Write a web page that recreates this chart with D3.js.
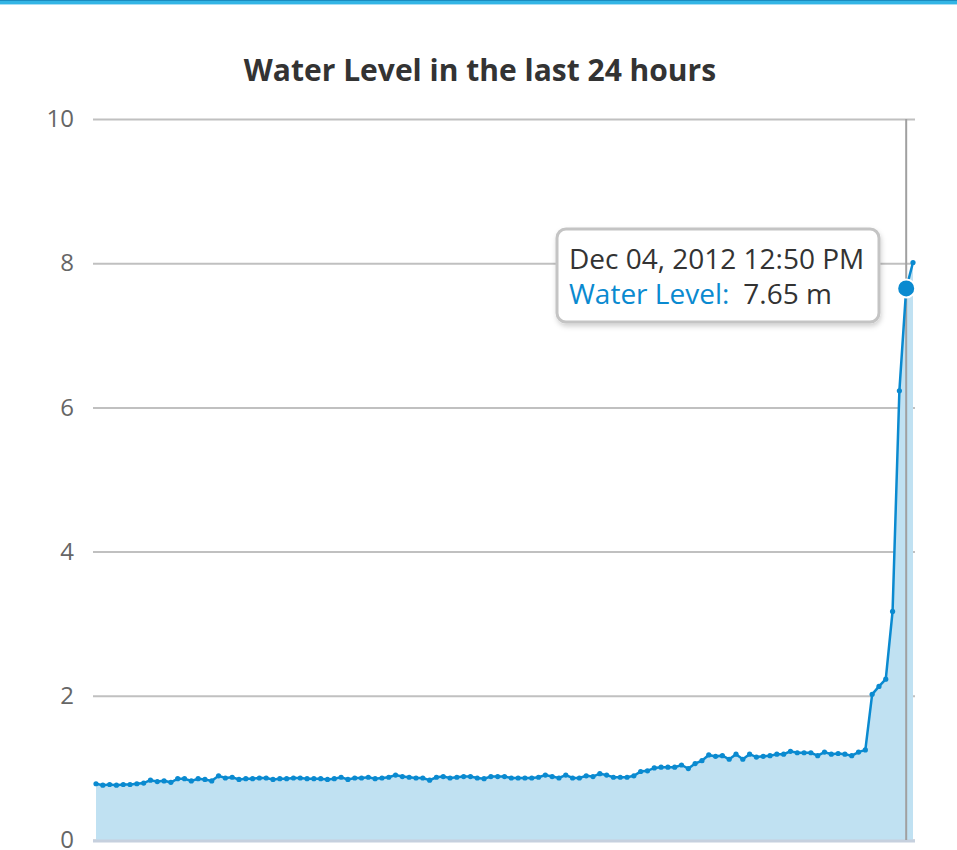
<!DOCTYPE html>
<html>
<head>
<meta charset="utf-8">
<script src="https://cdn.jsdelivr.net/npm/d3@7"></script>
<style>
  body { margin: 0; background: #fff; }
  svg { display: block; font-family: "Open Sans", Roboto, sans-serif; }
</style>
</head>
<body>
<svg id="chart" width="957" height="850"></svg>
<script>
// water level readings (m), one every 12 minutes over 24 hours
var levels = [
  0.78,0.76,0.77,0.76,0.77,0.77,0.78,0.79,0.83,0.81,0.82,0.80,0.85,0.85,0.82,0.85,
  0.84,0.82,0.89,0.86,0.87,0.84,0.85,0.85,0.86,0.86,0.84,0.85,0.85,0.86,0.86,
  0.85,0.85,0.85,0.84,0.85,0.87,0.84,0.86,0.86,0.87,0.85,0.86,0.87,0.90,0.88,
  0.87,0.86,0.86,0.83,0.87,0.88,0.86,0.87,0.88,0.88,0.86,0.85,0.88,0.88,0.88,
  0.86,0.86,0.86,0.86,0.87,0.90,0.88,0.86,0.90,0.86,0.86,0.89,0.88,0.92,0.90,0.87,
  0.87,0.87,0.89,0.95,0.96,1.00,1.01,1.01,1.01,1.04,0.99,1.06,1.10,1.18,1.16,1.17,
  1.12,1.19,1.12,1.19,1.15,1.16,1.17,1.19,1.19,1.23,1.21,1.21,1.21,1.17,1.22,
  1.19,1.20,1.19,1.17,1.22,1.25,
  2.02,2.13,2.23,3.17,6.23,7.65,8.01
];
var startTime = new Date(2012, 11, 3, 13, 2);
var stepMinutes = 12;
var yTicks = [0, 2, 4, 6, 8, 10];
var title = "Water Level in the last 24 hours";
var seriesName = "Water Level";
var unit = "m";
var hoverIndex = 119;

var data = levels.map(function (v, i) {
  return { t: new Date(startTime.getTime() + i * stepMinutes * 60000), v: v };
});

var svg = d3.select("#chart"),
    width = +svg.attr("width"),
    height = +svg.attr("height"),
    lineColor = "#0a8ad0",
    font = "'Open Sans', Roboto, sans-serif";

var x = d3.scaleTime()
    .domain(d3.extent(data, function (d) { return d.t; }))
    .range([96, 913]);
var y = d3.scaleLinear()
    .domain([0, 10])
    .range([840, 119]);

// top bar
svg.append("rect").attr("x", 0).attr("y", 0).attr("width", width).attr("height", 1).attr("fill", "#1b8cbf");
svg.append("rect").attr("x", 0).attr("y", 1).attr("width", width).attr("height", 3).attr("fill", "#33b5e5");
svg.append("rect").attr("x", 0).attr("y", 4).attr("width", width).attr("height", 1).attr("fill", "#a8def4");

svg.append("text")
    .attr("x", 480).attr("y", 81)
    .attr("text-anchor", "middle")
    .attr("font-size", 30).attr("font-weight", "bold")
    .attr("fill", "#333")
    .text(title);

// grid + y labels
var yAxis = d3.axisLeft(y).tickValues(yTicks).tickSize(-822).tickPadding(19);
var ga = svg.append("g").attr("transform", "translate(93,0)").call(yAxis);
ga.select(".domain").remove();
ga.selectAll(".tick line").attr("stroke", "#c0c0c0").attr("stroke-width", 2);
ga.selectAll(".tick text").attr("fill", "#666").attr("font-size", 24)
    .attr("font-family", font);

// area
var area = d3.area()
    .x(function (d) { return x(d.t); })
    .y0(y(0))
    .y1(function (d) { return y(d.v); });
svg.append("path").datum(data).attr("d", area).attr("fill", "#c0e1f2");

// baseline
svg.append("line")
    .attr("x1", 93).attr("x2", 915).attr("y1", y(0) + 1).attr("y2", y(0) + 1)
    .attr("stroke", "#c6d0de").attr("stroke-width", 3);

// crosshair
var hx = x(data[hoverIndex].t);
svg.append("line")
    .attr("x1", hx).attr("x2", hx).attr("y1", y(10)).attr("y2", y(0))
    .attr("stroke", "#a0a0a0").attr("stroke-width", 2);

var line = d3.line()
    .x(function (d) { return x(d.t); })
    .y(function (d) { return y(d.v); });
svg.append("path").datum(data).attr("d", line)
    .attr("fill", "none").attr("stroke", lineColor).attr("stroke-width", 2.5);

svg.append("g").selectAll("circle").data(data).enter().append("circle")
    .attr("cx", function (d) { return x(d.t); })
    .attr("cy", function (d) { return y(d.v); })
    .attr("r", 2.6)
    .attr("fill", lineColor);

svg.append("circle")
    .attr("cx", hx).attr("cy", y(data[hoverIndex].v))
    .attr("r", 9).attr("fill", lineColor)
    .attr("stroke", "#fff").attr("stroke-width", 2);

// tooltip
var defs = svg.append("defs");
var f = defs.append("filter").attr("id", "shadow").attr("x", "-10%").attr("y", "-10%").attr("width", "130%").attr("height", "140%");
f.append("feDropShadow").attr("dx", 1).attr("dy", 3).attr("stdDeviation", 2.5).attr("flood-color", "#000").attr("flood-opacity", 0.18);

var tip = svg.append("g").attr("transform", "translate(557,229)");
tip.append("rect")
    .attr("width", 322).attr("height", 93)
    .attr("rx", 9).attr("ry", 9)
    .attr("fill", "#fff")
    .attr("stroke", "#c4c4c4").attr("stroke-width", 3)
    .attr("filter", "url(#shadow)");
var fmt = d3.timeFormat("%b %d, %Y %I:%M %p");
tip.append("text")
    .attr("x", 12).attr("y", 40)
    .attr("font-size", 28).attr("fill", "#333")
    .text(fmt(data[hoverIndex].t));
var t2 = tip.append("text").attr("x", 12).attr("y", 75).attr("font-size", 28);
t2.append("tspan").attr("fill", lineColor).text(seriesName + ":");
t2.append("tspan").attr("fill", "#333").attr("dx", 14).text(data[hoverIndex].v.toFixed(2) + " " + unit);
</script>
</body>
</html>
